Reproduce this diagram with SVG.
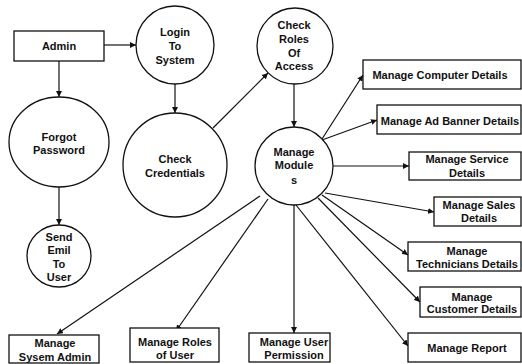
<svg xmlns="http://www.w3.org/2000/svg" width="522" height="364" viewBox="0 0 522 364">
  <defs>
    <marker id="arrow" viewBox="0 0 10 10" refX="10" refY="5" markerWidth="6" markerHeight="6" markerUnits="userSpaceOnUse" orient="auto">
      <path d="M0,0 L10,5 L0,10 Z" fill="#111"/>
    </marker>
    <style>
      .shape { fill: #fff; stroke: #111; stroke-width: 1.3; }
      .edge { fill: none; stroke: #111; stroke-width: 1.2; }
      .arr { marker-end: url(#arrow); }
      text { font-family: "Liberation Sans", Arial, sans-serif; font-size: 11px; font-weight: bold; fill: #111; text-anchor: middle; dominant-baseline: central; }
    </style>
  </defs>
  <rect width="522" height="364" fill="#fff"/>

  <g id="connectors">
    <line class="edge arr" x1="104" y1="45" x2="136" y2="45"/>
    <line class="edge arr" x1="59" y1="61" x2="59" y2="97"/>
    <line class="edge arr" x1="59" y1="187" x2="59" y2="225"/>
    <line class="edge arr" x1="175" y1="84" x2="175" y2="113"/>
    <line class="edge arr" x1="213" y1="128" x2="268" y2="73"/>
    <line class="edge arr" x1="294" y1="84" x2="294" y2="127"/>
    <line class="edge arr" x1="322" y1="139" x2="363" y2="75"/>
    <line class="edge arr" x1="322" y1="140" x2="377" y2="120"/>
    <line class="edge arr" x1="333" y1="166" x2="409" y2="166"/>
    <line class="edge arr" x1="325" y1="193" x2="434" y2="212"/>
    <line class="edge arr" x1="322" y1="195" x2="408" y2="255"/>
    <line class="edge arr" x1="318" y1="198" x2="420" y2="302"/>
    <line class="edge arr" x1="296" y1="205" x2="408" y2="346"/>
    <line class="edge arr" x1="294" y1="205" x2="294" y2="333"/>
    <line class="edge arr" x1="268" y1="199" x2="176" y2="331"/>
    <line class="edge arr" x1="260" y1="196" x2="57" y2="334"/>
  </g>

  <g id="admin">
    <rect class="shape" x="14" y="31" width="90" height="30"/>
    <text x="59" y="46">Admin</text>
  </g>
  <g id="login">
    <circle class="shape" cx="175" cy="45" r="39"/>
    <text x="175" y="32">Login</text>
    <text x="175" y="46">To</text>
    <text x="175" y="60">System</text>
  </g>
  <g id="forgot-password">
    <ellipse class="shape" cx="59" cy="142" rx="50" ry="45"/>
    <text x="59" y="137">Forgot</text>
    <text x="59" y="150">Password</text>
  </g>
  <g id="send-email">
    <ellipse class="shape" cx="59" cy="256" rx="32" ry="31"/>
    <text x="59" y="237">Send</text>
    <text x="59" y="250">Emil</text>
    <text x="59" y="264">To</text>
    <text x="59" y="277">User</text>
  </g>
  <g id="check-credentials">
    <circle class="shape" cx="175" cy="165" r="52"/>
    <text x="175" y="159">Check</text>
    <text x="175" y="173">Credentials</text>
  </g>
  <g id="check-roles">
    <circle class="shape" cx="295" cy="46" r="38"/>
    <text x="294" y="25">Check</text>
    <text x="294" y="39">Roles</text>
    <text x="294" y="53">Of</text>
    <text x="294" y="66">Access</text>
  </g>
  <g id="manage-modules">
    <circle class="shape" cx="294" cy="166" r="39"/>
    <text x="294" y="152">Manage</text>
    <text x="294" y="165">Module</text>
    <text x="294" y="180">s</text>
  </g>

  <g id="computer-details">
    <rect class="shape" x="363" y="60" width="158" height="29"/>
    <text x="440" y="75">Manage Computer Details</text>
  </g>
  <g id="ad-banner-details">
    <rect class="shape" x="377" y="105" width="144" height="29"/>
    <text x="450" y="121">Manage Ad Banner Details</text>
  </g>
  <g id="service-details">
    <rect class="shape" x="409" y="152" width="112" height="28"/>
    <text x="467" y="159">Manage Service</text>
    <text x="467" y="173">Details</text>
  </g>
  <g id="sales-details">
    <rect class="shape" x="434" y="197" width="87" height="29"/>
    <text x="479" y="205">Manage Sales</text>
    <text x="479" y="218">Details</text>
  </g>
  <g id="technicians-details">
    <rect class="shape" x="408" y="242" width="113" height="29"/>
    <text x="467" y="251">Manage</text>
    <text x="467" y="264">Technicians Details</text>
  </g>
  <g id="customer-details">
    <rect class="shape" x="420" y="287" width="101" height="30"/>
    <text x="472" y="297">Manage</text>
    <text x="472" y="309">Customer Details</text>
  </g>
  <g id="report">
    <rect class="shape" x="408" y="333" width="113" height="29"/>
    <text x="467" y="348">Manage Report</text>
  </g>
  <g id="system-admin">
    <rect class="shape" x="9" y="335" width="90" height="28"/>
    <text x="55" y="343">Manage</text>
    <text x="55" y="357">Sysem Admin</text>
  </g>
  <g id="roles-of-user">
    <rect class="shape" x="130" y="328" width="89" height="34"/>
    <text x="175" y="342">Manage Roles</text>
    <text x="175" y="355">of User</text>
  </g>
  <g id="user-permission">
    <rect class="shape" x="249" y="333" width="81" height="29"/>
    <text x="294" y="342">Manage User</text>
    <text x="294" y="355">Permission</text>
  </g>
</svg>
